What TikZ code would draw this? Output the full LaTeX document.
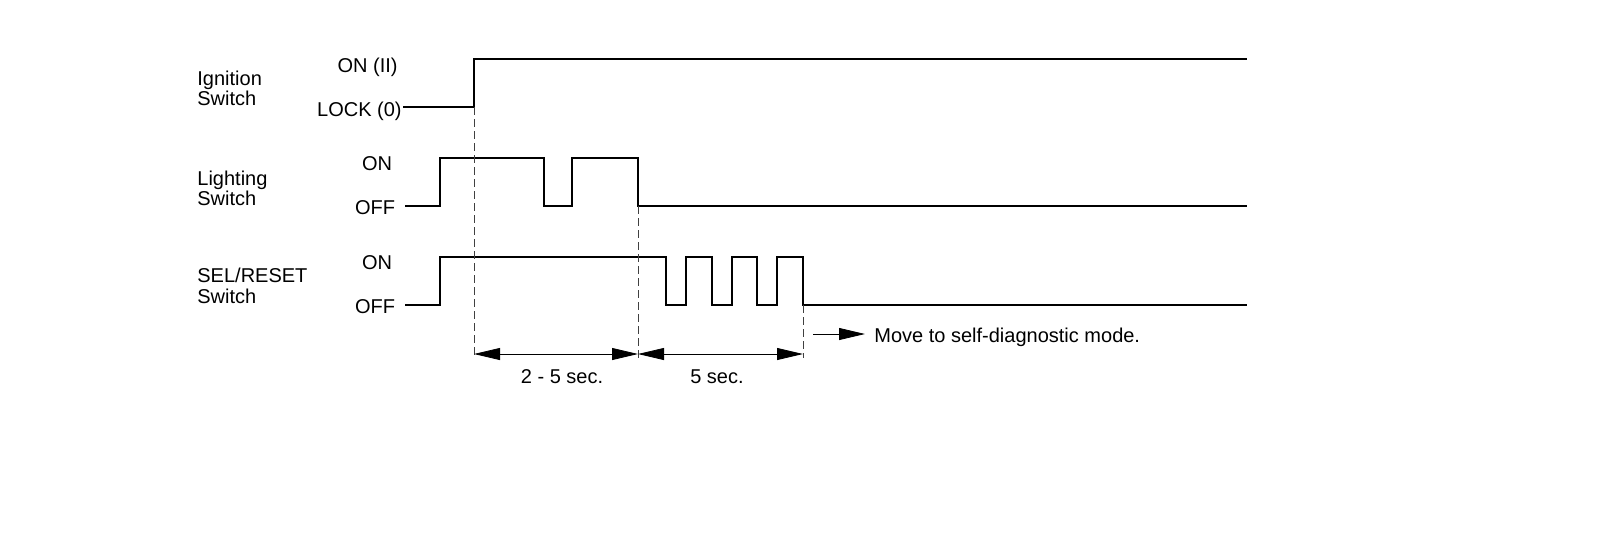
\documentclass[tikz,border=0pt]{standalone}
\usepackage{fontspec}
\setmainfont{Liberation Sans}
\usetikzlibrary{arrows.meta}
\begin{document}
\begin{tikzpicture}[x=0.5pt,y=-0.5pt,
  wave/.style={line width=1.2pt, line join=miter},
  guide/.style={line width=0.4pt, black!75, dash pattern=on 4pt off 2pt},
  dim/.style={line width=0.4pt, {Triangle[length=13pt,width=6pt]}-{Triangle[length=13pt,width=6pt]}},
  lbl/.style={font=\fontsize{10}{11}\selectfont, inner sep=0pt}]
\useasboundingbox (0,0) rectangle (1600,537);
% signal names
\node[lbl, anchor=base west] (ign1) at (197,85) {Ignition};
\node[lbl, anchor=base west] (ign2) at (197,105) {Switch};
\node[lbl, anchor=base west] (lig1) at (197,185) {Lighting};
\node[lbl, anchor=base west] (lig2) at (197,205) {Switch};
\node[lbl, anchor=base west] (sel1) at (197,282) {SEL/RESET};
\node[lbl, anchor=base west] (sel2) at (197,303) {Switch};
% level labels
\node[lbl, anchor=base east] (ignon) at (398,72) {ON (II)};
\node[lbl, anchor=base east] (ignlock) at (402,116) {LOCK (0)};
\node[lbl, anchor=base] (ligon) at (377,170) {ON};
\node[lbl, anchor=base] (ligoff) at (375,214) {OFF};
\node[lbl, anchor=base] (selon) at (377,269) {ON};
\node[lbl, anchor=base] (seloff) at (375,313) {OFF};
% ignition waveform
\coordinate (i0) at (403,107);
\coordinate (i1) at (474,107);
\coordinate (i2) at (474,59);
\coordinate (i3) at (1247,59);
\draw[wave] (i0) -- (i1) -- (i2) -- (i3);
% lighting waveform
\coordinate (l0) at (405,206);
\coordinate (l1) at (638,206);
\coordinate (l2) at (1247,206);
\draw[wave] (l0) -- (440,206) -- (440,158) -- (544,158) -- (544,206) -- (572,206)
  -- (572,158) -- (638,158) -- (l1) -- (l2);
% SEL/RESET waveform
\coordinate (s0) at (405,305);
\coordinate (s1) at (803,305);
\coordinate (s2) at (1247,305);
\draw[wave] (s0) -- (440,305) -- (440,257) -- (666,257) -- (666,305) -- (686,305)
  -- (686,257) -- (712,257) -- (712,305) -- (732,305) -- (732,257) -- (757,257)
  -- (757,305) -- (777,305) -- (777,257) -- (803,257) -- (s1) -- (s2);
% guide lines
\coordinate (g1) at (474,358);
\coordinate (g2) at (638,358);
\coordinate (g3) at (803,358);
\draw[guide] (i1) -- (g1);
\draw[guide] (l1) -- (g2);
\draw[guide] (s1) -- (g3);
% dimensions
\coordinate (d1) at (474,354);
\coordinate (d2) at (638,354);
\coordinate (d3) at (803,354);
\draw[dim] (d1) -- (d2);
\draw[dim] (d2) -- (d3);
\node[lbl, anchor=base] (t25) at (562,383) {2 - 5 sec.};
\node[lbl, anchor=base] (t5) at (717,383) {5 sec.};
% self-diagnostic arrow
\node[lbl, anchor=base west] (mode) at (874,342) {Move to self-diagnostic mode.};
\coordinate (m0) at (813,334);
\coordinate (m1) at (865,334);
\draw[line width=0.4pt, -{Triangle[length=13pt,width=6pt]}] (m0) -- (m1);
\end{tikzpicture}
\end{document}
